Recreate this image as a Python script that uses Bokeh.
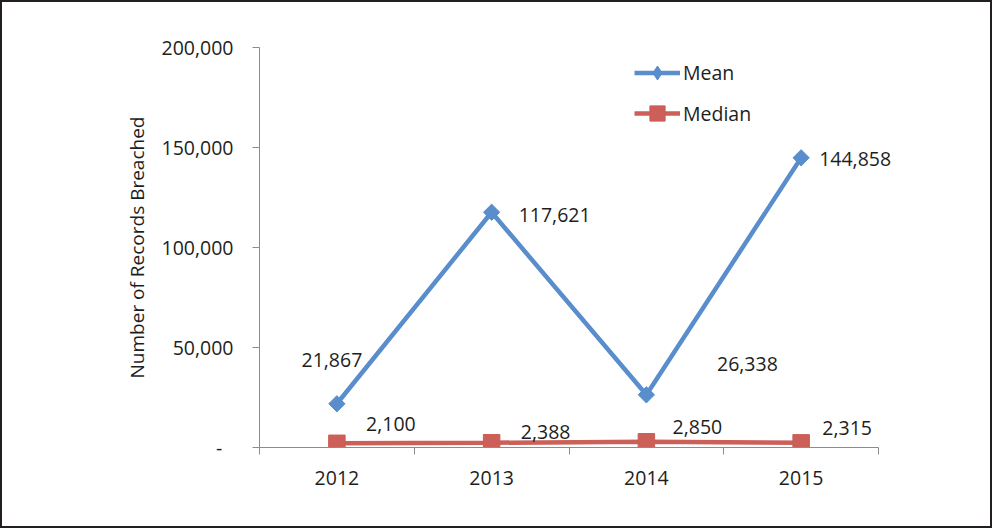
import math
from bokeh.plotting import figure
from bokeh.models import (Range1d, FixedTicker, NumeralTickFormatter, Legend, LegendItem,
                          ColumnDataSource)
from bokeh.core.properties import value
from bokeh.embed import file_html
from bokeh.resources import INLINE

# ---- data ----
years = [2012, 2013, 2014, 2015]
mean_vals = [21867, 117621, 26338, 144858]
median_vals = [2100, 2388, 2850, 2315]
y_ticks = [0, 50000, 100000, 150000, 200000]

# label offsets in screen pixels (x right, y down) for the data labels
mean_dx = [-5, 63, 101, 54]
mean_dy = [-44, 3, -31, 1]
median_dx = [54, 54, 51, 46]
median_dy = [-19, -11, -15, -15]

BLUE = "#5a8dcb"
RED = "#cc5f57"
TXT = "#1e1e1e"
AX = "#8c8c8c"
FONT = "Open Sans"
FS = "19.5px"

# frame extends a little past the last category so the last label is not clipped;
# the x axis line itself is bounded to the category span
p = figure(width=992, height=528, output_backend="svg", toolbar_location=None,
           x_range=Range1d(2011.5, 2015.642), y_range=Range1d(0, 200000),
           min_border_left=257, min_border_right=94, min_border_top=45, min_border_bottom=83)
p.styles = {"border": "2px solid #231f20"}
p.outline_line_color = None
p.xgrid.visible = False
p.ygrid.visible = False
p.background_fill_color = "white"
p.border_fill_color = "white"

# y axis
ya = p.yaxis[0]
ya.ticker = FixedTicker(ticks=y_ticks, minor_ticks=[])
ya.formatter = NumeralTickFormatter(format="0,0")
ya.major_label_overrides = {0: "-\u2007"}
ya.axis_line_color = AX
ya.major_tick_line_color = AX
ya.major_tick_out = 7
ya.major_tick_in = 0
ya.minor_tick_line_color = None
ya.major_label_standoff = 19
ya.major_label_text_font = FONT
ya.major_label_text_font_size = FS
ya.major_label_text_color = TXT
ya.axis_label = "Number of Records Breached"
ya.axis_label_text_font = FONT
ya.axis_label_text_font_size = "19px"
ya.axis_label_text_font_style = "normal"
ya.axis_label_text_color = TXT
ya.axis_label_standoff = 9

# x axis
xa = p.xaxis[0]
xa.bounds = (years[0] - 0.5, years[-1] + 0.5)
xa.ticker = FixedTicker(ticks=years, minor_ticks=[y - 0.5 for y in years] + [years[-1] + 0.5])
xa.axis_line_color = AX
xa.major_tick_line_color = None
xa.major_tick_out = 0
xa.major_tick_in = 0
xa.minor_tick_line_color = AX
xa.minor_tick_out = 7
xa.minor_tick_in = 0
xa.major_label_standoff = 16
xa.major_label_text_font = FONT
xa.major_label_text_font_size = FS
xa.major_label_text_color = TXT

# series
mean_line = p.line(years, mean_vals, line_width=4.5, line_color=BLUE)
median_line = p.line(years, median_vals, line_width=4.5, line_color=RED)
mean_leg = p.scatter(years, mean_vals, marker="diamond", size=15, fill_color=BLUE, line_color=BLUE)
p.scatter(years, mean_vals, marker="square", size=11.5, angle=math.pi / 4,
          fill_color=BLUE, line_color=BLUE)
median_sq = p.scatter(years, median_vals, marker="square", size=16.5, fill_color=RED, line_color=RED)

# data labels
src_m = ColumnDataSource(dict(x=years, y=mean_vals, t=[f"{v:,}" for v in mean_vals],
                              dx=mean_dx, dy=mean_dy))
src_d = ColumnDataSource(dict(x=years, y=median_vals, t=[f"{v:,}" for v in median_vals],
                              dx=median_dx, dy=median_dy))
for src in (src_m, src_d):
    p.text(x="x", y="y", text="t", x_offset="dx", y_offset="dy", source=src,
           text_font=value(FONT), text_font_size=FS, text_color=TXT,
           text_align="center", text_baseline="middle")

# legends
def make_legend(label, renderers, gh, loc):
    lg = Legend(items=[LegendItem(label=label, renderers=renderers)], location=loc,
                glyph_width=46, glyph_height=gh, label_standoff=3, padding=0, margin=0,
                spacing=0, border_line_color=None, background_fill_alpha=0,
                label_text_font=FONT, label_text_font_size=FS, label_text_color=TXT)
    p.add_layout(lg, "center")

make_legend("Mean", [mean_line, mean_leg], 35, (375, 357))
make_legend("Median", [median_line, median_sq], 38, (375, 315))

open("out.html", "w").write(file_html(p, INLINE))
